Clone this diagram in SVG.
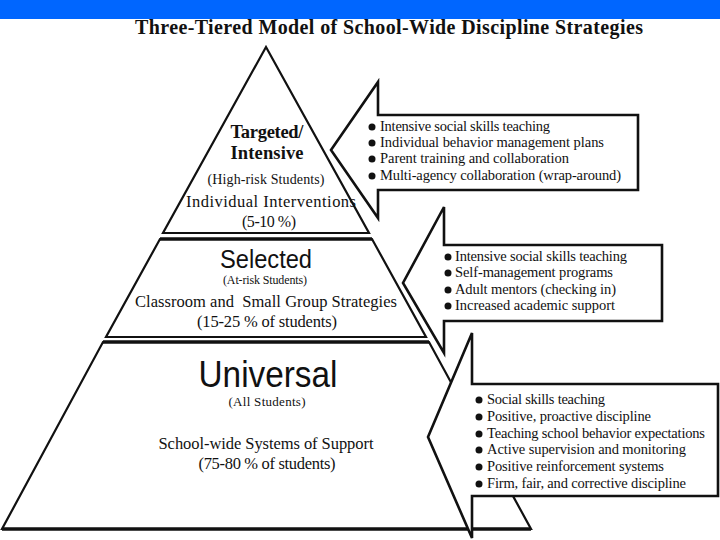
<svg xmlns="http://www.w3.org/2000/svg" width="720" height="540" viewBox="0 0 720 540">
<style>
.tier{fill:#fff;stroke:#111;stroke-width:2.2;stroke-linejoin:miter}
.thick{stroke:#111;stroke-width:3.6}
.callout{fill:#fff;stroke:#111;stroke-width:2.6;stroke-linejoin:miter}
.serif{font-family:"Liberation Serif","Times New Roman",serif;fill:#111}
.sans{font-family:"Liberation Sans",Arial,sans-serif;fill:#111}
.b{font-weight:bold}
.item{font-family:"Liberation Serif","Times New Roman",serif;font-size:14.5px;fill:#111}
.dot{fill:#111}
</style>
<rect x="0" y="0" width="720" height="540" fill="#fff"/>
<rect x="0" y="0" width="720" height="19" fill="#0066ff"/>
<text class="serif b" x="389" y="34" font-size="20" text-anchor="middle" textLength="508">Three-Tiered Model of School-Wide Discipline Strategies</text>

<g id="tier-base">
<polygon class="tier" points="103,342 429,342 531,529 2,529"/>
<line class="thick" x1="103" y1="342" x2="429" y2="342"/>
<line class="thick" x1="2" y1="529" x2="531" y2="529"/>
<text class="sans" x="268" y="387" font-size="37" text-anchor="middle" textLength="139" lengthAdjust="spacingAndGlyphs">Universal</text>
<text class="serif" x="267" y="406" font-size="13" text-anchor="middle" textLength="77">(All Students)</text>
<text class="serif" x="266" y="449" font-size="16.5" text-anchor="middle" textLength="215">School-wide Systems of Support</text>
<text class="serif" x="267" y="469" font-size="16.5" text-anchor="middle" textLength="137">(75-80 % of students)</text>
</g>

<g id="tier-mid">
<polygon class="tier" points="160,239 372,239 426,337 106,337"/>
<line class="thick" x1="160" y1="239" x2="372" y2="239"/>
<text class="sans" x="266" y="268" font-size="26" text-anchor="middle" textLength="92" lengthAdjust="spacingAndGlyphs">Selected</text>
<text class="serif" x="265" y="284" font-size="12" text-anchor="middle" textLength="84">(At-risk Students)</text>
<text class="serif" x="266" y="307" font-size="16.5" text-anchor="middle" textLength="262" xml:space="preserve">Classroom and  Small Group Strategies</text>
<text class="serif" x="267" y="327" font-size="16.5" text-anchor="middle" textLength="140">(15-25 % of students)</text>
</g>

<g id="tier-top">
<polygon class="tier" points="266,47 369,233 163,233"/>
<text class="serif b" x="267" y="138" font-size="18.5" text-anchor="middle" textLength="73">Targeted/</text>
<text class="serif b" x="267" y="159" font-size="18.5" text-anchor="middle" textLength="73">Intensive</text>
<text class="serif" x="266" y="184" font-size="14" text-anchor="middle" textLength="117">(High-risk Students)</text>
<text class="serif" x="271" y="207" font-size="16.5" text-anchor="middle" textLength="170">Individual Interventions</text>
<text class="serif" x="269" y="227" font-size="16" text-anchor="middle" textLength="54">(5-10 %)</text>
</g>

<g id="callout-targeted">
<polygon class="callout" points="378,82 378,115 638,115 638,190 378,190 378,218 331,150"/>
<circle class="dot" cx="372" cy="127" r="3.5"/>
<circle class="dot" cx="372" cy="143" r="3.5"/>
<circle class="dot" cx="372" cy="159" r="3.5"/>
<circle class="dot" cx="372" cy="176" r="3.5"/>
<text class="item" x="380" y="131" textLength="170">Intensive social skills teaching</text>
<text class="item" x="380" y="147" textLength="224">Individual behavior management plans</text>
<text class="item" x="380" y="163" textLength="189">Parent training and collaboration</text>
<text class="item" x="380" y="180" textLength="241">Multi-agency collaboration (wrap-around)</text>
</g>

<g id="callout-selected">
<polygon class="callout" points="444,207 444,245 662,245 662,321 444,321 444,353 403,283"/>
<circle class="dot" cx="448" cy="257" r="3.5"/>
<circle class="dot" cx="448" cy="273" r="3.5"/>
<circle class="dot" cx="448" cy="290" r="3.5"/>
<circle class="dot" cx="448" cy="306" r="3.5"/>
<text class="item" x="455" y="261" textLength="172">Intensive social skills teaching</text>
<text class="item" x="455" y="277" textLength="158">Self-management programs</text>
<text class="item" x="455" y="294" textLength="161">Adult mentors (checking in)</text>
<text class="item" x="455" y="310" textLength="160">Increased academic support</text>
</g>

<g id="callout-universal">
<polygon class="callout" points="472,333 472,384 718,384 718,496 472,496 472,538 428,437"/>
<circle class="dot" cx="479" cy="400" r="3.5"/>
<circle class="dot" cx="479" cy="417" r="3.5"/>
<circle class="dot" cx="479" cy="434" r="3.5"/>
<circle class="dot" cx="479" cy="450" r="3.5"/>
<circle class="dot" cx="479" cy="467" r="3.5"/>
<circle class="dot" cx="479" cy="484" r="3.5"/>
<text class="item" x="487" y="404" textLength="118">Social skills teaching</text>
<text class="item" x="487" y="421" textLength="164">Positive, proactive discipline</text>
<text class="item" x="487" y="438" textLength="218">Teaching school behavior expectations</text>
<text class="item" x="487" y="454" textLength="199">Active supervision and monitoring</text>
<text class="item" x="487" y="471" textLength="177">Positive reinforcement systems</text>
<text class="item" x="487" y="488" textLength="199">Firm, fair, and corrective discipline</text>
</g>

<g id="connectors"></g>
</svg>
